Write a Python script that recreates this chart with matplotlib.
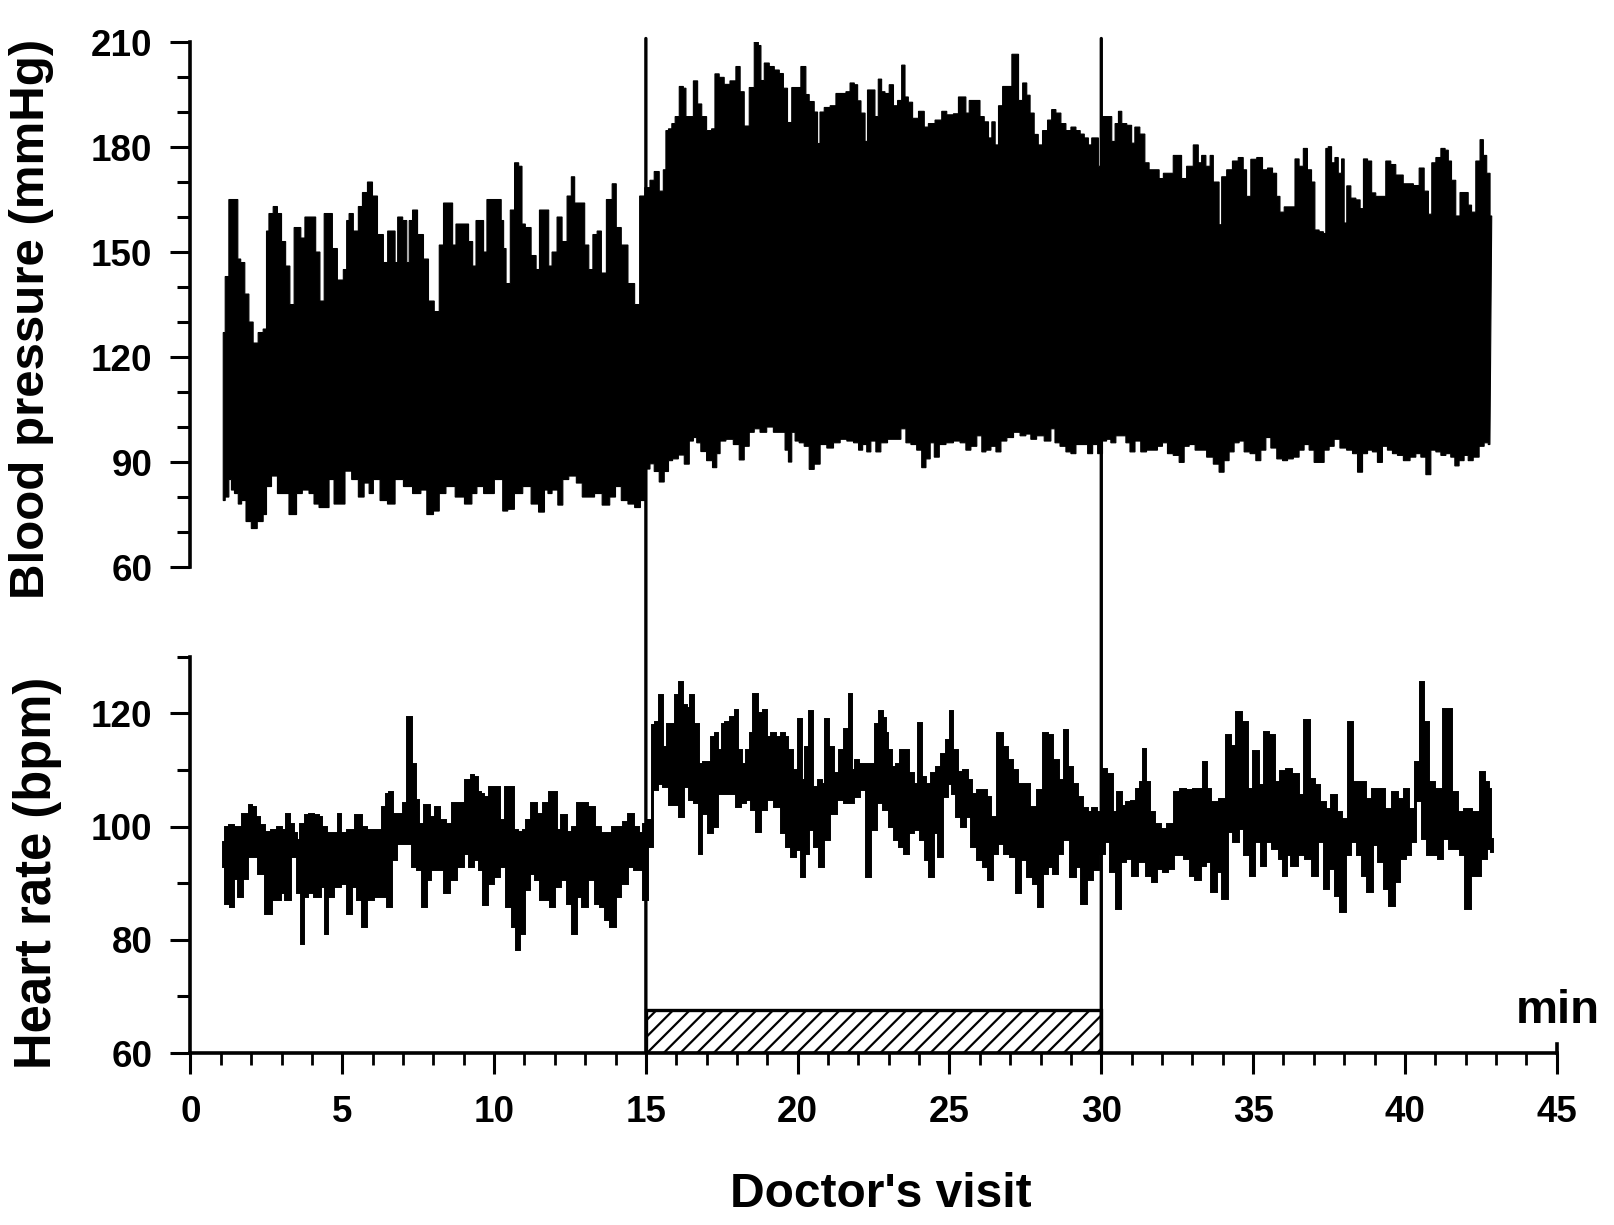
import matplotlib
matplotlib.use("Agg")
import matplotlib.pyplot as plt
import numpy as np
from matplotlib import cbook
from matplotlib.patches import ConnectionPatch
from matplotlib.ticker import MultipleLocator

plt.rcParams['font.family'] = ['Liberation Sans', 'DejaVu Sans']
plt.rcParams['font.weight'] = 'bold'
plt.rcParams['hatch.linewidth'] = 1.6

# ---------------- data ----------------
# Blood pressure trace envelope (min, mmHg): upper (systolic peaks) and lower (diastolic troughs)
bp_upper_t = [1.08,1.21,1.32,1.52,1.60,1.71,1.87,1.98,2.15,2.31,2.48,2.53,2.64,2.81,2.92,3.08,3.19,3.36,3.47,3.58,3.69,3.85,4.07,4.18,4.35,4.46,4.62,4.73,4.95,5.12,5.17,5.28,5.45,5.61,5.72,5.94,6.05,6.27,6.44,6.55,6.71,6.77,6.88,7.10,7.15,7.26,7.37,7.59,7.76,7.92,8.14,8.25,8.42,8.58,8.69,8.80,9.08,9.24,9.35,9.46,9.63,9.68,9.85,10.18,10.29,10.34,10.45,10.62,10.73,10.89,10.95,11.11,11.33,11.44,11.55,11.77,11.83,11.99,12.16,12.32,12.49,12.60,12.71,12.93,13.04,13.20,13.31,13.48,13.59,13.81,13.97,14.08,14.30,14.52,14.74,14.85,
              15.08,15.19,15.36,15.52,15.63,15.69,15.80,15.91,16.02,16.18,16.29,16.35,16.51,16.62,16.79,16.89,17.11,17.22,17.33,17.50,17.66,17.88,18.05,18.16,18.32,18.49,18.65,18.76,18.82,18.98,19.15,19.31,19.48,19.58,19.75,19.86,20.08,20.13,20.24,20.30,20.46,20.63,20.68,20.79,20.96,21.18,21.34,21.51,21.67,21.78,21.95,22.00,22.17,22.27,22.33,22.49,22.60,22.71,22.82,22.93,23.10,23.21,23.37,23.48,23.59,23.70,23.87,24.09,24.25,24.36,24.69,24.80,25.02,25.24,25.35,25.51,25.57,25.73,25.95,26.06,26.23,26.34,26.45,26.56,26.67,26.83,27.00,27.11,27.22,27.33,27.49,27.60,27.71,27.87,27.98,28.15,28.31,28.42,28.59,28.75,28.92,29.08,29.25,29.36,29.52,29.63,29.74,29.85,29.96,
              30.12,30.29,30.40,30.51,30.62,30.73,30.95,31.05,31.16,31.38,31.49,31.66,31.82,31.99,32.10,32.26,32.48,32.59,32.70,32.92,33.14,33.25,33.36,33.53,33.64,33.74,33.85,33.91,34.02,34.24,34.40,34.62,34.73,34.84,35.01,35.23,35.39,35.56,35.72,35.83,35.94,36.11,36.33,36.43,36.60,36.71,36.87,36.98,37.09,37.26,37.37,37.42,37.53,37.64,37.75,37.86,37.97,38.03,38.14,38.30,38.47,38.58,38.69,38.85,38.96,39.12,39.29,39.45,39.62,39.78,39.89,40.00,40.17,40.39,40.55,40.72,40.83,40.94,41.10,41.27,41.38,41.48,41.59,41.76,41.87,42.03,42.14,42.25,42.42,42.53,42.64,42.75,42.86]
bp_upper = [127,143,165,165,148,147,138,130,124,127,128,156,161,163,161,153,146,135,157,157,154,160,160,150,136,161,161,151,142,145,159,161,156,163,167,170,166,155,147,156,156,147,160,159,147,159,162,155,148,136,133,152,164,164,152,158,158,153,146,159,159,150,165,165,159,151,141,162,175.5,174.5,158,157,149,145,162,162,146,150,160,153,166,171.5,164,164,152,145,155,156,144,165,169.5,157,152,141,135,166,
            168.4,170.5,173,167.4,173.5,184.7,185.2,186.7,188.7,197.3,196.8,188.7,188.7,198.9,192.3,188.7,184.7,185.2,200.9,199.9,197.9,198.9,203,195.8,186,197,210,209,199,204,203,202,201,196.8,187,197,197,203,203,195,193,190,181,190,191.3,191.8,195.3,195.3,195.8,198.3,197.8,193.2,189.7,181.6,196.3,196.3,188.7,199.4,195.8,195.3,197.8,191.8,193.3,203.4,194.3,192.8,188.2,190.2,185.7,186.7,187.7,190.2,189.2,189.5,194.3,194.3,189.7,193.3,193.3,188.7,187.2,182.6,187.2,180.6,191.8,197.3,197.3,206.5,206.5,193.3,198.3,194.8,189.7,183.6,180.6,184.7,187.7,190.7,189.7,186.7,184.7,185.7,184.7,183.7,182.6,180.6,182.6,182.6,174.5,
            188.7,188.7,181.6,186.7,190.2,186.7,186.2,181.1,185.7,183.7,175.5,173.5,173.5,171,172.5,172.5,177.6,177.6,171,174.5,180.6,175.5,177.6,174.5,177.6,170,170,157.8,171.5,173.5,176,177,173.5,165.9,176.5,177,173.5,174,172.5,165.9,161.4,162.9,162.9,176.6,174.5,179.6,173.5,170,156.3,155.8,155.3,179.6,180.1,175.5,177,172.5,176.6,158.3,168.9,165.4,164.9,162.4,176.6,176,166.9,165.9,165.9,176,175,172,172,169.5,169.5,169,174,167.4,160.8,175.5,177,179.6,179.1,176,170.5,160.3,167,167,163.4,161.4,176,182.1,177.6,172.5,160.3]

bp_lower_t = [1.08,1.21,1.32,1.38,1.52,1.63,1.74,1.92,2.09,2.31,2.48,2.53,2.81,2.92,3.19,3.30,3.47,3.52,3.85,3.96,4.18,4.29,4.51,4.62,4.84,5.01,5.17,5.45,5.61,5.83,5.94,6.11,6.38,6.60,6.88,7.15,7.48,7.70,7.87,8.14,8.25,8.58,8.86,9.19,9.35,9.52,9.79,10.23,10.34,10.56,10.78,11.11,11.33,11.60,11.72,11.83,11.99,12.21,12.32,12.60,12.82,12.99,13.20,13.42,13.70,13.92,14.08,14.30,14.52,14.74,14.90,
              15.08,15.19,15.36,15.52,15.69,15.80,15.96,16.18,16.35,16.51,16.62,16.73,16.89,17.11,17.28,17.39,17.50,17.77,17.99,18.16,18.32,18.49,18.65,18.87,19.09,19.31,19.53,19.64,19.75,19.86,19.97,20.13,20.30,20.46,20.63,20.85,21.07,21.29,21.51,21.73,21.95,22.06,22.22,22.33,22.49,22.66,22.82,23.10,23.32,23.48,23.65,23.81,24.03,24.14,24.31,24.42,24.58,24.75,25.02,25.24,25.46,25.62,25.79,26.01,26.12,26.28,26.45,26.61,26.78,27.00,27.22,27.43,27.60,27.76,27.98,28.26,28.42,28.53,28.75,28.92,29.08,29.25,29.47,29.63,29.80,29.96,
              30.12,30.23,30.40,30.56,30.73,30.89,31.00,31.22,31.38,31.60,31.77,31.93,32.10,32.26,32.48,32.65,32.81,32.98,33.20,33.36,33.58,33.80,33.96,34.13,34.29,34.46,34.62,34.79,35.01,35.17,35.34,35.50,35.67,35.89,36.05,36.22,36.43,36.60,36.76,36.93,37.09,37.26,37.42,37.59,37.75,37.97,38.19,38.36,38.52,38.69,38.85,39.01,39.18,39.34,39.51,39.67,39.84,40.06,40.28,40.44,40.61,40.77,40.94,41.10,41.27,41.43,41.59,41.70,41.87,42.03,42.14,42.36,42.53,42.69,42.80]
bp_lower = [79,80,85,82,81,78,79,73,71,73,75,83,86,81,81,75,75,81,82,81,78,77,77,85,78,78,87.4,85,80,84,81,85,79,78,85,83,81,82,75,76,81,83,80,78,81,83,81,85,76,76.5,81,83,78,75.7,82,81,82,77.7,85,86,84,80,80,81,77.7,80,83,79,78,77,79,
            88,89.5,87.3,84.3,87.3,90.4,90.9,92,89.4,96,97,95.5,93,90.4,88.4,92.4,96,96.5,95,90.6,94.5,98.5,99.5,98.5,100,98.5,98.5,93.4,90,98.5,96,95.5,94.5,87.9,89.4,95,94,95.5,96.5,96,95.5,93.4,95,92.9,96,92.9,95.5,96.5,96.5,99.5,95.5,95,93.4,88.4,90.9,95.5,91.4,95,95.5,96,95.5,93.4,94.5,97.5,92.9,93.4,94.5,92.9,96,97,98.5,97.5,98,96.5,97.5,96,99.5,95.5,94.5,92.9,92.4,95,95,92.4,95,92.4,
            96,96.5,95.5,97.5,97.5,95.5,92.9,96,92.9,93.4,93.4,94.5,95.5,92.4,91.9,89.9,94.5,95,93.4,93.4,91.4,89.4,87.1,90.4,92.9,95.5,96,92.9,92.4,90.4,93.4,97,94,90.9,90.4,90.9,91.4,93.4,95,93.4,89.9,89.9,93.4,94.5,96.5,94,93.4,92.4,87.1,92.4,93.4,92.9,89.9,94.5,93.4,92.4,91.9,90.4,91.4,92.4,91.4,86.4,93.4,92.9,91.9,92.4,91.4,88.9,90.4,91.9,90.4,91.4,94.5,95.5,95]

# Heart rate trace envelope (min, bpm)
hr_upper_t = [1.08,1.21,1.32,1.54,1.87,1.98,2.09,2.20,2.37,2.53,2.75,2.92,3.08,3.19,3.36,3.47,3.52,3.69,3.85,3.96,4.18,4.29,4.40,4.57,4.79,4.90,5.01,5.28,5.56,5.72,5.94,6.27,6.38,6.49,6.60,6.71,6.93,7.04,7.21,7.37,7.48,7.59,7.81,7.98,8.14,8.31,8.53,8.69,8.91,9.19,9.30,9.41,9.52,9.63,9.74,9.90,10.12,10.29,10.40,10.62,10.67,10.89,11.00,11.11,11.33,11.50,11.72,11.88,12.05,12.10,12.32,12.49,12.65,12.82,12.99,13.20,13.42,13.64,13.81,13.97,14.19,14.30,14.52,14.69,14.85,14.96,
              15.14,15.25,15.36,15.52,15.63,15.74,15.91,16.02,16.13,16.29,16.40,16.51,16.68,16.79,16.95,17.06,17.22,17.33,17.44,17.55,17.66,17.88,17.99,18.10,18.21,18.38,18.49,18.60,18.76,18.93,19.04,19.20,19.37,19.53,19.64,19.75,19.91,20.08,20.19,20.30,20.46,20.57,20.74,20.85,20.96,21.12,21.29,21.45,21.62,21.73,21.84,21.95,22.06,22.33,22.49,22.60,22.77,22.88,22.93,23.04,23.15,23.32,23.43,23.59,23.76,23.92,24.03,24.14,24.31,24.47,24.64,24.80,24.96,25.07,25.18,25.35,25.51,25.68,25.79,26.01,26.17,26.28,26.45,26.67,26.83,27.00,27.16,27.33,27.55,27.76,27.98,28.20,28.31,28.53,28.70,28.86,28.97,29.14,29.30,29.47,29.63,29.74,29.96,
              30.08,30.32,30.44,30.62,30.74,30.92,31.04,31.22,31.34,31.40,31.52,31.69,31.87,32.05,32.29,32.47,32.71,32.89,33.13,33.31,33.42,33.54,33.72,34.02,34.20,34.32,34.56,34.74,34.92,35.10,35.27,35.45,35.63,35.81,35.99,36.17,36.41,36.59,36.77,36.95,37.12,37.30,37.48,37.66,37.84,38.02,38.20,38.38,38.62,38.79,39.03,39.21,39.45,39.69,39.87,40.05,40.23,40.41,40.58,40.70,40.88,41.12,41.42,41.66,41.84,42.08,42.37,42.55,42.73,42.79,42.90]
hr_upper = [97.3,100,100.2,100,102.3,103.8,103.5,101.7,100.2,99.1,99.4,100,99.4,102.3,100.5,98.8,97.6,100.5,102,102.3,102,101.7,100,98.8,98.8,102.3,98.8,99.4,102,100,99.4,99.4,103.5,105.8,106.1,102.3,102.3,104.1,119.4,111.1,104.7,100.5,103.8,101.7,103.5,101.1,100.5,104.1,104.1,108.2,109.1,108.8,106.1,105.8,105.3,107,107,101.1,107,107,99.4,99.1,99.4,101.1,104.1,102.3,104.1,106.1,106.1,99.4,102,99.1,100,104.1,104.1,103.5,100,98.8,98.8,100,100,100.8,102.3,100,98.8,100.5,
            101.1,117.9,118.5,123.2,114.1,118.2,118.2,123.2,125.6,121.5,120.9,123.2,118.2,111.1,111.4,111.4,115.9,116.5,113.5,118.2,118.5,119.4,120.6,113.5,111.1,113.5,116.5,123.5,120,120.6,115.9,116.5,115.9,116.5,115.9,113.5,110,119,108.2,114.1,120.4,107,108.2,107.6,119,114.1,109.4,113.5,117.3,123.5,110,111.7,111.1,111.1,111.1,118.2,120.4,119.2,116.5,113.5,110.6,111.1,113.5,113.5,109.4,107.6,118.3,108.8,107.6,109.4,110.6,112.9,115.3,120.4,113.5,109.7,110,108.2,105.8,106.4,106.4,105.3,101.7,116.5,114.1,111.7,110,107.6,107.6,103.5,106.4,116.5,116.2,111.7,108.2,117,110.6,107.6,105.3,103.2,102.6,103.2,102.6,
            110.2,109.3,102.5,106.1,103.7,104.3,104.6,106.7,107.8,113.7,107.8,102.5,100.5,99.6,100.5,106.1,106.7,106.4,106.7,106.7,111.4,106.7,104.3,104.9,116.1,114.3,120.2,118.5,106.7,113.4,107.3,116.7,116.1,107.8,109.9,110.2,109.3,105.5,118.8,108.4,107.3,104.3,103.1,105.5,102.5,101.4,118.5,107.8,107.8,104.9,106.7,106.7,103.1,106.1,104.9,106.7,103.1,111.4,125.5,118.5,107.8,106.7,120.8,106.1,102.5,103.1,102.5,109.6,107.8,106.7,97.8]

hr_lower_t = [1.08,1.21,1.38,1.49,1.65,1.82,1.98,2.15,2.31,2.59,2.75,2.92,3.03,3.19,3.41,3.58,3.69,3.80,3.96,4.18,4.40,4.46,4.62,4.84,5.06,5.23,5.39,5.56,5.72,5.94,6.16,6.38,6.55,6.71,6.88,7.04,7.21,7.37,7.54,7.70,7.87,7.98,8.20,8.47,8.64,8.91,9.08,9.24,9.41,9.57,9.68,9.90,10.07,10.29,10.51,10.67,10.78,10.95,11.11,11.28,11.44,11.61,11.77,11.94,12.10,12.32,12.49,12.65,12.82,12.99,13.20,13.42,13.59,13.75,13.92,14.08,14.30,14.52,14.69,14.85,14.96,
              15.19,15.30,15.47,15.69,15.85,16.02,16.18,16.35,16.51,16.68,16.79,16.89,17.00,17.11,17.28,17.44,17.66,17.88,18.05,18.21,18.38,18.54,18.71,18.87,19.09,19.37,19.53,19.69,19.86,20.02,20.19,20.30,20.46,20.63,20.79,20.96,21.18,21.40,21.62,21.78,21.95,22.17,22.33,22.49,22.71,22.93,23.10,23.26,23.43,23.59,23.76,23.92,24.14,24.25,24.42,24.58,24.69,24.86,25.02,25.13,25.29,25.46,25.62,25.79,26.01,26.17,26.34,26.50,26.67,26.89,27.11,27.27,27.43,27.66,27.82,27.98,28.15,28.31,28.48,28.64,28.86,29.08,29.25,29.41,29.63,29.85,30.02,
              30.20,30.38,30.56,30.74,30.92,31.10,31.34,31.58,31.75,31.93,32.11,32.29,32.47,32.65,32.83,33.01,33.19,33.37,33.54,33.72,33.90,34.08,34.26,34.44,34.62,34.80,34.98,35.16,35.33,35.51,35.75,35.93,36.05,36.17,36.35,36.59,36.83,37.06,37.24,37.42,37.60,37.78,37.96,38.14,38.32,38.50,38.68,38.85,39.03,39.21,39.39,39.57,39.75,39.93,40.11,40.29,40.47,40.64,40.82,41.00,41.18,41.36,41.54,41.72,41.90,42.08,42.26,42.43,42.61,42.79,42.90]
hr_lower = [92.9,86.4,85.8,90.8,87.6,90.8,94.6,94.6,91.7,84.6,87.0,87.0,88.2,87.0,94.6,88.2,79.3,87.6,88.2,87.6,89.3,81.1,87.6,89.3,89.9,84.6,89.3,87.0,82.3,87.0,87.6,87.6,85.8,94.1,97.0,97.0,97.0,92.9,92.3,85.8,90.5,92.3,92.3,88.2,90.5,92.9,95.2,92.9,94.1,92.3,86.1,89.9,91.1,92.9,85.8,82.3,78.2,81.1,88.8,91.7,90.5,87.0,87.0,85.8,89.3,90.5,86.4,81.1,87.6,85.8,90.5,86.4,85.8,83.5,82.3,87.6,89.9,92.9,92.3,92.3,87.0,
            96.4,106.4,107.6,107.0,103.8,103.8,101.7,107.0,104.7,104.1,95.2,102.3,102.3,98.8,100,105.8,105.8,105.8,103.5,104.1,104.7,102.9,99.1,102.9,104.7,103.5,98.8,96.4,94.6,95.8,91.1,95.2,99.4,96.4,92.9,97.6,102.3,104.7,104.1,104.1,105.3,106.4,91.1,99.4,104.1,102.9,100,97.6,96.4,95.2,98.8,99.4,97.6,94.1,91.1,98.8,94.6,105.3,107.6,105.8,101.7,100,101.7,96.4,94.1,92.9,90.5,95.2,97.0,95.2,94.6,88.2,94.1,91.1,89.9,85.8,91.7,92.9,91.7,95.2,97.6,91.1,92.9,86.4,90.5,92.3,95.2,
            97.2,91.9,85.5,93.7,94.3,91.3,93.7,91.3,90.2,92.5,91.9,92.5,94.9,94.9,94.3,91.3,90.5,93.1,93.7,88.4,91.9,87.2,99.0,97.2,99.6,94.9,91.3,97.2,93.1,97.2,96.1,94.3,91.3,94.9,93.1,94.9,94.3,91.3,97.2,89.0,92.5,87.8,84.9,94.9,97.2,94.9,91.3,88.4,96.7,93.7,89.0,86.0,90.2,94.3,94.9,97.2,104.6,97.8,94.9,94.9,94.3,97.8,96.1,96.1,94.9,85.5,91.3,91.3,94.3,96.1,95.5]

# Doctor's visit period (min) and height of the marker bar (bpm)
visit_start, visit_end = 15, 30
visit_bar_top = 67.6
marker_top_bp = 211

bp_yticks = [60, 90, 120, 150, 180, 210]
hr_yticks = [60, 80, 100, 120]
time_ticks = list(range(0, 50, 5))


def stepped_band(ax, up_t, up_v, lo_t, lo_v, lw):
    """Fill the region between an upper and a lower envelope drawn as mid-steps."""
    ux, uy = cbook.pts_to_midstep(np.asarray(up_t, float), np.asarray(up_v, float))
    lx, ly = cbook.pts_to_midstep(np.asarray(lo_t, float), np.asarray(lo_v, float))
    ax.fill(np.concatenate([ux, lx[::-1]]), np.concatenate([uy, ly[::-1]]),
            color='black', lw=lw)


# ---------------- figure ----------------
fig = plt.figure(figsize=(16.14, 12.25), dpi=100)
ax1 = fig.add_axes([0.118, 0.5371, 0.8465, 0.4286])
ax2 = fig.add_axes([0.118, 0.1404, 0.8465, 0.3235])

SPINE_W = 2.6
TICK_FS = 26.5

# Blood pressure band
stepped_band(ax1, bp_upper_t, bp_upper, bp_lower_t, bp_lower, lw=0.8)
ax1.set_xlim(0, 45)
ax1.set_ylim(60, 210)
for s in ['top', 'right', 'bottom']:
    ax1.spines[s].set_visible(False)
ax1.spines['left'].set_linewidth(SPINE_W)
ax1.set_yticks(bp_yticks)
ax1.yaxis.set_minor_locator(MultipleLocator(10))
ax1.tick_params(axis='x', which='both', bottom=False, labelbottom=False)
ax1.tick_params(axis='y', which='major', direction='out', length=14.5, width=2.2,
                labelsize=TICK_FS, pad=13)
ax1.tick_params(axis='y', which='minor', direction='out', length=9.5, width=2.2)

# Heart rate band
stepped_band(ax2, hr_upper_t, hr_upper, hr_lower_t, hr_lower, lw=1.4)
ax2.set_xlim(0, 45)
ax2.set_ylim(60, 130)
ax2.spines['top'].set_visible(False)
ax2.spines['right'].set_bounds(60, 61.6)
for s in ['left', 'bottom', 'right']:
    ax2.spines[s].set_linewidth(SPINE_W)
ax2.set_yticks(hr_yticks)
ax2.yaxis.set_minor_locator(MultipleLocator(10))
ax2.set_xticks(time_ticks)
ax2.xaxis.set_minor_locator(MultipleLocator(1))
ax2.tick_params(axis='y', which='major', direction='out', length=14.5, width=2.2,
                labelsize=TICK_FS, pad=13)
ax2.tick_params(axis='y', which='minor', direction='out', length=9.5, width=2.2)
ax2.tick_params(axis='x', which='major', direction='out', length=15, width=2.2,
                labelsize=TICK_FS, pad=15)
ax2.tick_params(axis='x', which='minor', direction='out', length=8.5, width=2.0)
ax2.tick_params(axis='y', which='both', right=False)

for lab in ax1.get_yticklabels() + ax2.get_yticklabels() + ax2.get_xticklabels():
    lab.set_fontweight('bold')

# hatched bar marking the doctor's visit
ax2.bar(visit_start, visit_bar_top - 60, bottom=60, width=visit_end - visit_start,
        align='edge', fill=False, hatch='//', edgecolor='black', lw=2.4, zorder=3)

# vertical event markers spanning both panels
for t in (visit_start, visit_end):
    con = ConnectionPatch(xyA=(t, 60), coordsA=ax2.transData,
                          xyB=(t, marker_top_bp), coordsB=ax1.transData,
                          color='black', lw=2.4)
    fig.add_artist(con)

# labels
fig.text(0.0198, 0.7396, 'Blood pressure (mmHg)', rotation=90, ha='center',
         va='center', fontsize=35.5, fontweight='bold')
fig.text(0.0232, 0.2878, 'Heart rate (bpm)', rotation=90, ha='center',
         va='center', fontsize=36.5, fontweight='bold')
fig.text(0.546, 0.0253, "Doctor's visit", ha='center', va='center',
         fontsize=34.5, fontweight='bold')
fig.text(0.9653, 0.1747, 'min', ha='center', va='center', fontsize=34,
         fontweight='bold')

fig.savefig('out.png', dpi=100)
